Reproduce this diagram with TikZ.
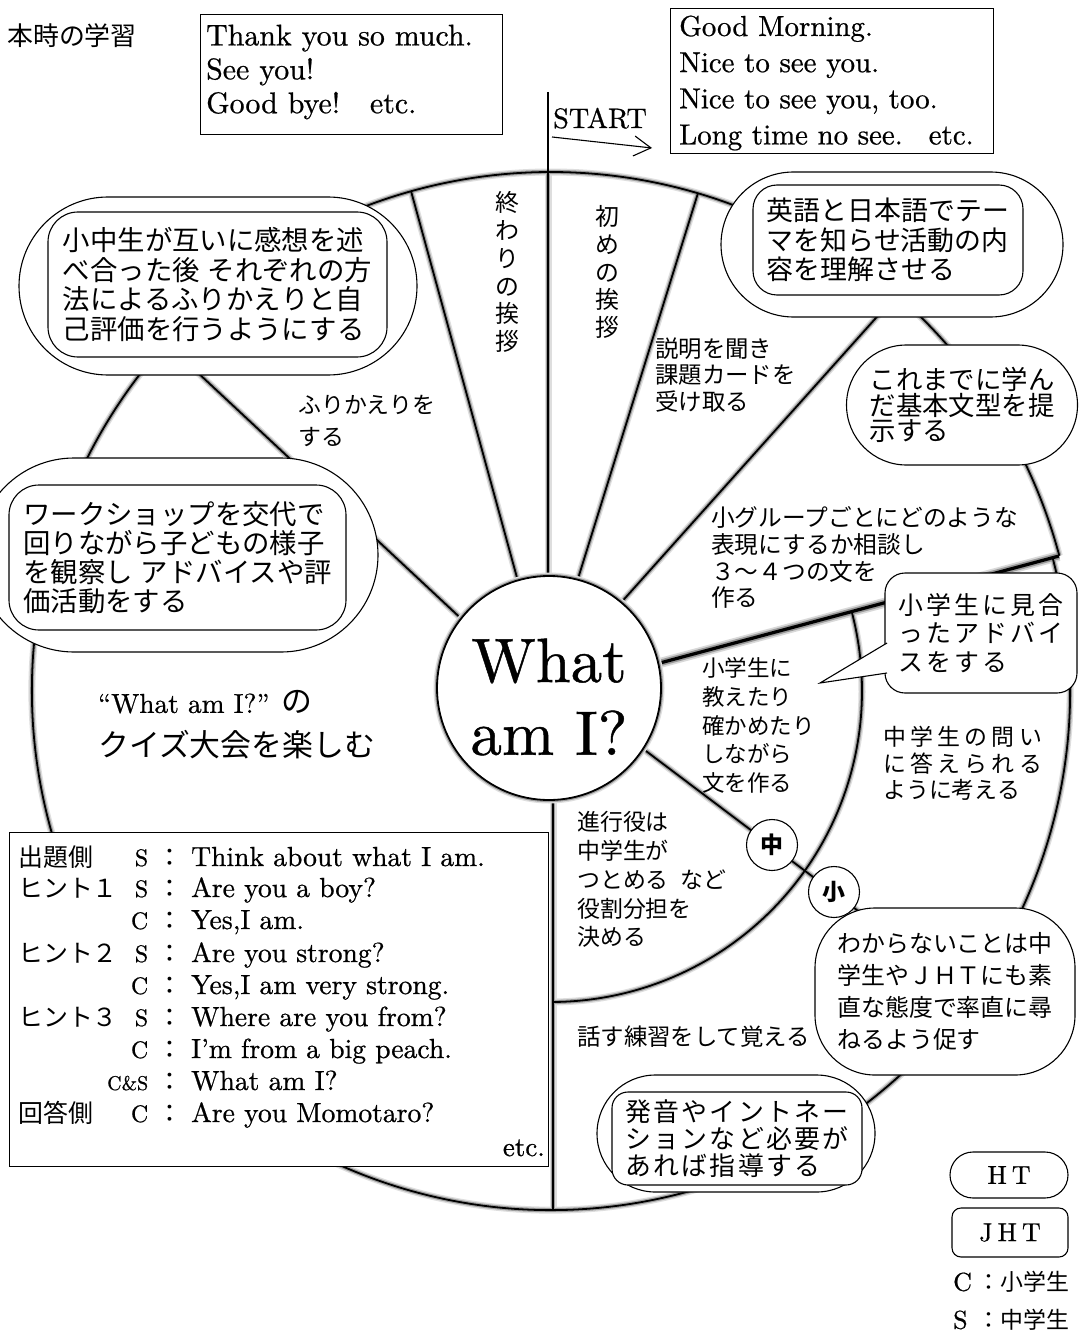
\documentclass[tikz,border=0pt]{standalone}
\usepackage{fontspec}
\setmainfont{lmroman10-regular.otf}[FakeBold=0.7]
\newfontfamily\jp{Noto Sans CJK JP}
\usetikzlibrary{shapes.misc,arrows.meta}
\newcommand\myfs[2]{\fontsize{#1}{#2}\selectfont}
\newcommand\lsp[1]{\addfontfeature{LetterSpace=#1}}
\newcommand\tlab[2]{\makebox[94bp][l]{\jp\myfs{25}{25}#1}\makebox[36bp][r]{\myfs{24}{24}#2}\makebox[43bp]{\jp\myfs{25}{25}：}}
\newcommand\leglab[2]{\makebox[24bp][l]{\rmfamily\myfs{26}{26}#1}\makebox[23bp]{：}#2}
\newcommand\wheelpaths[2]{%
  \draw[#1] (O) ++(-14.9:519) arc[start angle=-14.9,end angle=311.1,radius=519];
  \draw[#1] (O) ++(-48.9:526) arc[start angle=-48.9,end angle=-14.9,radius=526];
  \draw[#1] (O) ++(-14.9:311) arc[start angle=-14.9,end angle=89.6,radius=311];
  \draw[#1] (548,172) -- (548,590);
  \draw[#1] (411,191) -- (519,585);
  \draw[#1] (698,193) -- (576,585);
  \draw[#1] (166,343) -- (468,625);
  \draw[#1] (892,300) -- (618,606);
  \draw[#1] (638,745) -- (971,996);
  \draw[#1] (553,790) -- (553,1210);
  \draw[#2] (645,667) -- (1059,556);
}
\begin{document}
\lineskiplimit=-100pt
\begin{tikzpicture}[x=1bp,y=-1bp,
  sh1/.style={line width=7bp, black!13},
  sh2/.style={line width=4.2bp, black!38},
  core/.style={line width=1.8bp, black},
  tsh1/.style={line width=10bp, black!15},
  tsh2/.style={line width=6.5bp, black!40},
  tcore/.style={line width=3.2bp, black},
  bub/.style={draw, fill=white, line width=1.1bp, inner sep=0pt},
  ht/.style={bub, rounded rectangle},
  jht/.style={bub, rectangle, rounded corners=#1},
  txt/.style={inner sep=0pt, anchor=west, align=left},
  row/.style={anchor=base west, inner sep=0pt, font=\myfs{27.7}{27.7}},
  plainbox/.style={draw, line width=1bp, inner sep=0pt, fill=white},
  tag/.style={circle, draw, fill=white, line width=1.1bp, minimum size=51bp, inner sep=0pt, font=\jp\bfseries\myfs{23}{23}}
]
\useasboundingbox (0,0) rectangle (1079,1337);
\fill[white] (0,0) rectangle (1079,1337);
\coordinate (O) at (551,691);
\coordinate (Hc) at (549,688);
% wheel
\wheelpaths{sh1}{tsh1}
\wheelpaths{sh2}{tsh2}
\wheelpaths{core}{tcore}
\draw[sh1] (Hc) circle[radius=112];
\draw[sh2] (Hc) circle[radius=112];
\draw[core, fill=white] (Hc) circle[radius=112];
\coordinate (poleTop) at (548,92);
\coordinate (poleBot) at (548,172);
\draw[line width=1.3bp] (poleTop) -- (poleBot);
% START
\node[anchor=base west, inner sep=0pt, font=\myfs{28.3}{28.3}] (start) at (553,128) {START};
\coordinate (a1) at (552,137);
\coordinate (a2) at (652,148);
\draw[line width=1.1bp, -{Straight Barb[length=17bp,width=20bp]}] (a1) -- (a2);
% title
\node[txt, font=\jp\myfs{26}{26}] (title) at (7,36) {本時の学習};
% box B
\node[plainbox, minimum width=302bp, minimum height=120bp] (bB) at (351,75) {};
\node[txt, font=\myfs{30}{34}] (tB) at (206,72) {Thank you so much.\\See you!\\Good bye!\hspace{1em}etc.};
% box C
\node[plainbox, minimum width=323bp, minimum height=145bp] (bC) at (831.5,81.5) {};
\node[txt, font=\myfs{29}{36.3}] (tC) at (679,83) {Good Morning.\\Nice to see you.\\Nice to see you, too.\\Long time no see.\hspace{0.9em}etc.};
% wheel labels
\node[align=center, inner sep=0pt, font=\jp\myfs{24}{28}] (owari) at (507,272) {終\\わ\\り\\の\\挨\\拶};
\node[align=center, inner sep=0pt, font=\jp\myfs{24}{28}] (hajime) at (607,272) {初\\め\\の\\挨\\拶};
\node[txt, font=\jp\myfs{23.5}{27}] (setsu) at (655,375) {説明を聞き\\課題カードを\\受け取る};
\node[txt, font=\jp\myfs{23}{32}] (furi) at (298,421) {ふりかえりを\\する};
\node[txt, font=\jp\myfs{23.8}{27}] (kog) at (711,557.5) {小グループごとにどのような\\表現にするか相談し\\３～４つの文を\\作る};
\node[txt, font=\jp\myfs{22.6}{28.75}] (osh) at (702,725.5) {小学生に\\教えたり\\確かめたり\\しながら\\文を作る};
\node[txt, font=\jp\myfs{23}{26.5}] (toi) at (883,763.5) {{\lsp{18.7}中学生の問い}\\{\lsp{18.7}に答えられる}\\ように考える};
\node[txt, font=\jp\myfs{23}{29}] (shin) at (577,879.5) {進行役は\\中学生が\\つとめる\hspace{12bp}など\\役割分担を\\決める};
\node[txt, font=\jp\myfs{23.5}{23.5}] (hanasu) at (577,1037) {話す練習をして覚える};
\node[txt, font=\jp\myfs{31}{44}] (quiz) at (98,725) {{\rmfamily\myfs{27.5}{44}\textquotedblleft What am I?\textquotedblright}\hspace{12bp}の\\クイズ大会を楽しむ};
\node[align=center, inner sep=0pt, font=\myfs{63}{73}] (hub) at (549,697) {What\\am I?};
% bubbles
\node[ht, minimum width=398bp, minimum height=178bp] (eO) at (218,286) {};
\node[jht=30bp, minimum width=339bp, minimum height=145bp, align=left, font=\jp\myfs{27.5}{29.7}] (eI) at (217.5,284.5) {小中生が互いに感想を述\\べ合った後\hspace{8bp}それぞれの方\\法によるふりかえりと自\\己評価を行うようにする};
\node[ht, minimum width=342bp, minimum height=145bp] (fO) at (892,244.5) {};
\node[jht=24bp, minimum width=270bp, minimum height=110bp, align=left, font=\jp\myfs{27}{29.5}] (fI) at (888,240) {英語と日本語でテー\\マを知らせ活動の内\\容を理解させる};
\node[ht, minimum width=231bp, minimum height=120bp, align=left, font=\jp\myfs{26.5}{25.5}] (g) at (962,405) {これまでに学ん\\だ基本文型を提\\示する};
\node[ht, minimum width=401bp, minimum height=194bp] (hO) at (177.5,555) {};
\node[jht=30bp, minimum width=337bp, minimum height=145bp, align=left, font=\jp\myfs{27.5}{29}] (hI) at (177.5,557.5) {ワークショップを交代で\\回りながら子どもの様子\\を観察し\hspace{8bp}アドバイスや評\\価活動をする};
% callout
\node[jht=20bp, minimum width=192bp, minimum height=120bp, align=left, font=\jp\myfs{25}{28.5}\lsp{12}] (p) at (981,633) {小学生に見合\\ったアドバイ\\スをする};
\coordinate (pa) at (887,643);
\coordinate (pt) at (820,683);
\coordinate (pb) at (887,673);
\draw[line width=1.1bp, fill=white] (pa) -- (pt) -- (pb);
% lower right bubbles
\node[jht=60bp, minimum width=260bp, minimum height=167bp, align=left, font=\jp\myfs{24}{32}] (w) at (945,991.5) {わからないことは中\\学生やＪＨＴにも素\\直な態度で率直に尋\\ねるよう促す};
\node[ht, minimum width=278bp, minimum height=117bp] (kO) at (736,1133.5) {};
\node[jht=16bp, minimum width=250bp, minimum height=93bp, align=left, font=\jp\myfs{26}{27}\lsp{9}] (kI) at (737,1138.5) {発音やイントネー\\ションなど必要が\\あれば指導する};
% tags
\node[tag] (chu) at (772,845) {中};
\node[tag] (sho) at (834,892) {小};
% table
\node[plainbox, minimum width=538bp, minimum height=334bp] (tbl) at (279,999) {};
\node[row] (r1) at (18,866) {\tlab{出題側}{S}Think about what I am.};
\node[row] (r2) at (18,897) {\tlab{ヒント１}{S}Are you a boy?};
\node[row] (r3) at (18,929) {\tlab{}{C}Yes,I am.};
\node[row] (r4) at (18,962) {\tlab{ヒント２}{S}Are you strong?};
\node[row] (r5) at (18,994) {\tlab{}{C}Yes,I am very strong.};
\node[row] (r6) at (18,1026) {\tlab{ヒント３}{S}Where are you from?};
\node[row] (r7) at (18,1058) {\tlab{}{C}I\textquoteright m from a big peach.};
\node[row] (r8) at (18,1090) {\tlab{}{\myfs{20}{20}C\&S}What am I?};
\node[row] (r9) at (18,1122) {\tlab{回答側}{C}Are you Momotaro?};
\node[anchor=base east, inner sep=0pt, font=\myfs{27}{27}] (etc) at (545,1156) {etc.};
% legend
\node[ht, minimum width=118bp, minimum height=46bp, font=\myfs{26}{26}] (lh) at (1009,1175) {H\hspace{5bp}T};
\node[jht=9bp, minimum width=116bp, minimum height=49bp, font=\myfs{26}{26}] (lj) at (1010,1232.5) {J\hspace{5bp}H\hspace{5bp}T};
\node[txt, font=\jp\myfs{23}{23}] (lc) at (953,1282) {\leglab{C}{小学生}};
\node[txt, font=\jp\myfs{23}{23}] (ls) at (953,1320) {\leglab{S}{中学生}};
\end{tikzpicture}
\end{document}
